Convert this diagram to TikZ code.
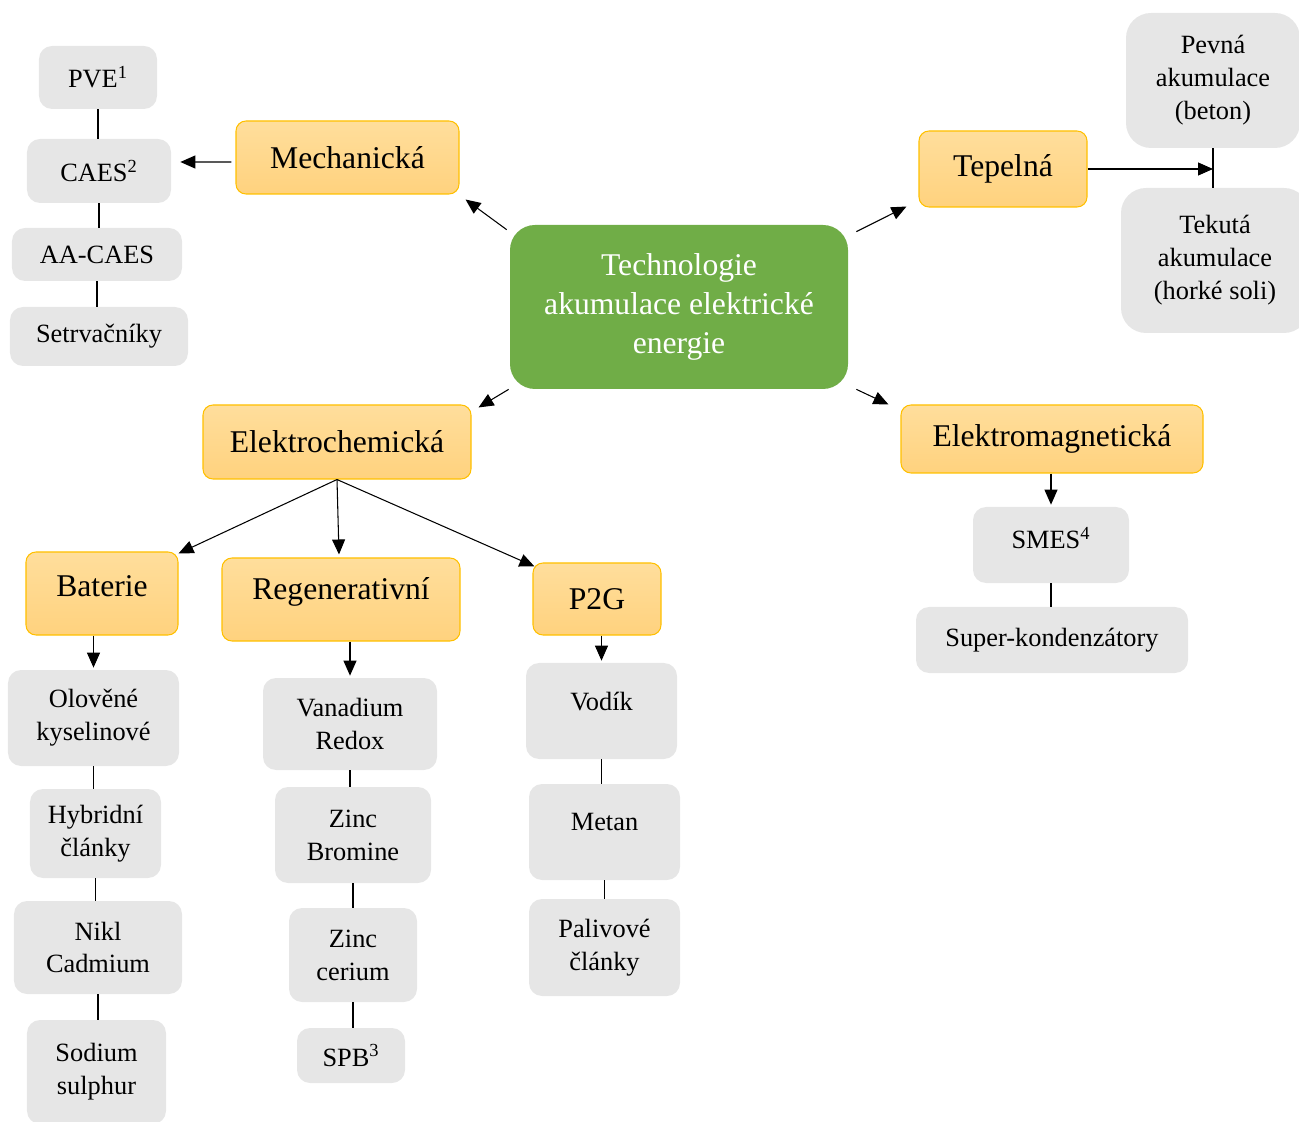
\documentclass[tikz,border=0pt]{standalone}
\usepackage{fontspec}
\setmainfont{Liberation Serif}
\usetikzlibrary{arrows.meta}
\definecolor{rootgreen}{HTML}{70AD47}
\definecolor{catline}{HTML}{FFC000}
\definecolor{cattop}{HTML}{FFDE9C}
\definecolor{catbot}{HTML}{FFD27E}
\definecolor{itemgrey}{HTML}{E6E6E6}
\tikzset{
  root/.style={rounded corners=5mm,fill=rootgreen,text=white,align=center,inner sep=0pt,font=\fontsize{18}{22.4}\selectfont},
  cat/.style={rounded corners=2mm,draw=catline,line width=0.6pt,top color=cattop,bottom color=catbot,inner sep=0pt,font=\fontsize{18}{22}\selectfont},
  item/.style={rounded corners=2.6mm,fill=itemgrey,align=center,inner sep=0pt,font=\fontsize{15}{18.7}\selectfont},
  arr/.style={-{Triangle[length=3mm,width=2.6mm]},line width=0.6pt},
  lnk/.style={line width=0.6pt}}
\begin{document}
\begin{tikzpicture}[x=0.2mm,y=-0.2mm]
\useasboundingbox (0,0) rectangle (1299,1122);
\node [root,minimum width=67.6mm,minimum height=32.8mm] (tech) at (679,307) {Technologie\\akumulace elektrické\\energie};
\node [cat,minimum width=44.6mm,minimum height=14.6mm] (mech) at (347.5,157.5) {Mechanická};
\node [cat,minimum width=33.6mm,minimum height=15.2mm] (tep) at (1003,169) {Tepelná};
\node [cat,minimum width=53.6mm,minimum height=14.8mm] (echem) at (337,442) {Elektrochemická};
\node [cat,minimum width=60.4mm,minimum height=13.6mm] (emag) at (1052,439) {Elektromagnetická};
\node [cat,minimum width=30.4mm,minimum height=16.6mm,text depth=3mm] (bat) at (102,593.5) {Baterie};
\node [cat,minimum width=47.6mm,minimum height=16.6mm,text depth=4.2mm] (regen) at (341,599.5) {Regenerativní};
\node [cat,minimum width=25.6mm,minimum height=14.4mm] (p2g) at (597,599) {P2G};
\node [item,minimum width=23.6mm,minimum height=12.6mm] (pve) at (98,77.5) {PVE\textsuperscript{1}};
\node [item,minimum width=28.8mm,minimum height=12.8mm] (caes) at (99,171) {CAES\textsuperscript{2}};
\node [item,minimum width=34mm,minimum height=10.6mm] (aacaes) at (97,254.5) {AA-CAES};
\node [item,minimum width=35.6mm,minimum height=11.8mm] (setr) at (99,336.5) {Setrvačníky};
\node [item,minimum width=34.8mm,minimum height=27mm,rounded corners=5mm] (pevna) at (1213,80.5) {Pevná\\akumulace\\(beton)};
\node [item,minimum width=37.6mm,minimum height=29mm,rounded corners=5mm] (tekuta) at (1215,260.5) {Tekutá\\akumulace\\(horké soli)};
\node [item,minimum width=31.2mm,minimum height=15.2mm,text depth=2.8mm] (smes) at (1051,545) {SMES\textsuperscript{4}};
\node [item,minimum width=54.4mm,minimum height=13.2mm] (super) at (1052,640) {Super-kondenzátory};
\node [item,minimum width=34.2mm,minimum height=19.2mm] (olov) at (93.5,718) {Olověné\\kyselinové};
\node [item,minimum width=26.2mm,minimum height=17.8mm] (hybr) at (95.5,833.5) {Hybridní\\články};
\node [item,minimum width=33.6mm,minimum height=18.6mm] (nikl) at (98,947.5) {Nikl\\Cadmium};
\node [item,minimum width=27.8mm,minimum height=20.8mm] (sod) at (96.5,1072) {Sodium\\sulphur};
\node [item,minimum width=34.8mm,minimum height=18.4mm] (van) at (350,724) {Vanadium\\Redox};
\node [item,minimum width=31.2mm,minimum height=19.2mm] (zbr) at (353,835) {Zinc\\Bromine};
\node [item,minimum width=25.6mm,minimum height=18.8mm] (zce) at (353,955) {Zinc\\cerium};
\node [item,minimum width=21.6mm,minimum height=11mm] (spb) at (351,1055.5) {SPB\textsuperscript{3}};
\node [item,minimum width=30.2mm,minimum height=19.2mm,text depth=4mm] (vod) at (601.5,711) {Vodík};
\node [item,minimum width=30.2mm,minimum height=19.2mm,text depth=4mm] (met) at (604.5,832) {Metan};
\node [item,minimum width=30.2mm,minimum height=19.4mm] (pal) at (604.5,947.5) {Palivové\\články};
\draw [arr] ([shift={(-3,5)}]tech.north west) -- ([shift={(6,5)}]mech.south east);
\draw [arr] ([shift={(8,7)}]tech.north east) -- ([shift={(-12,-1)}]tep.south west);
\draw [arr] ([shift={(-1,0)}]tech.south west) -- ([shift={(7,3)}]echem.north east);
\draw [arr] ([shift={(8,0)}]tech.south east) -- ([shift={(-12,0)}]emag.north west);
\draw [arr] ([shift={(-4,4.5)}]mech.west) -- ([shift={(9,-9)}]caes.east);
\coordinate (tepend) at (pevna.south |- tep.east);
\draw [arr] (tep.east) -- (tepend);
\draw [lnk] (pevna.south) -- (pevna.south |- tekuta.north);
\draw [arr] (echem.south) -- ([shift={(0,2)}]bat.north east);
\draw [arr] (echem.south) -- ([shift={(-2,-3)}]regen.north);
\draw [arr] (echem.south) -- ([shift={(2,4)}]p2g.north west);
\draw [arr,shorten >=0.4mm] (olov.north |- bat.south) -- (olov.north);
\draw [arr,shorten >=0.4mm] (van.north |- regen.south) -- (van.north);
\draw [arr,shorten >=0.4mm] (vod.north |- p2g.south) -- (vod.north);
\draw [arr,shorten >=0.4mm] (smes.north |- emag.south) -- (smes.north);
\foreach \a/\b in {pve/caes,caes/aacaes,aacaes/setr,olov/hybr,hybr/nikl,nikl/sod,van/zbr,zbr/zce,zce/spb,vod/met,met/pal,smes/super}
  \draw [lnk] (\a.south) -- (\a.south |- \b.north);
\end{tikzpicture}
\end{document}
